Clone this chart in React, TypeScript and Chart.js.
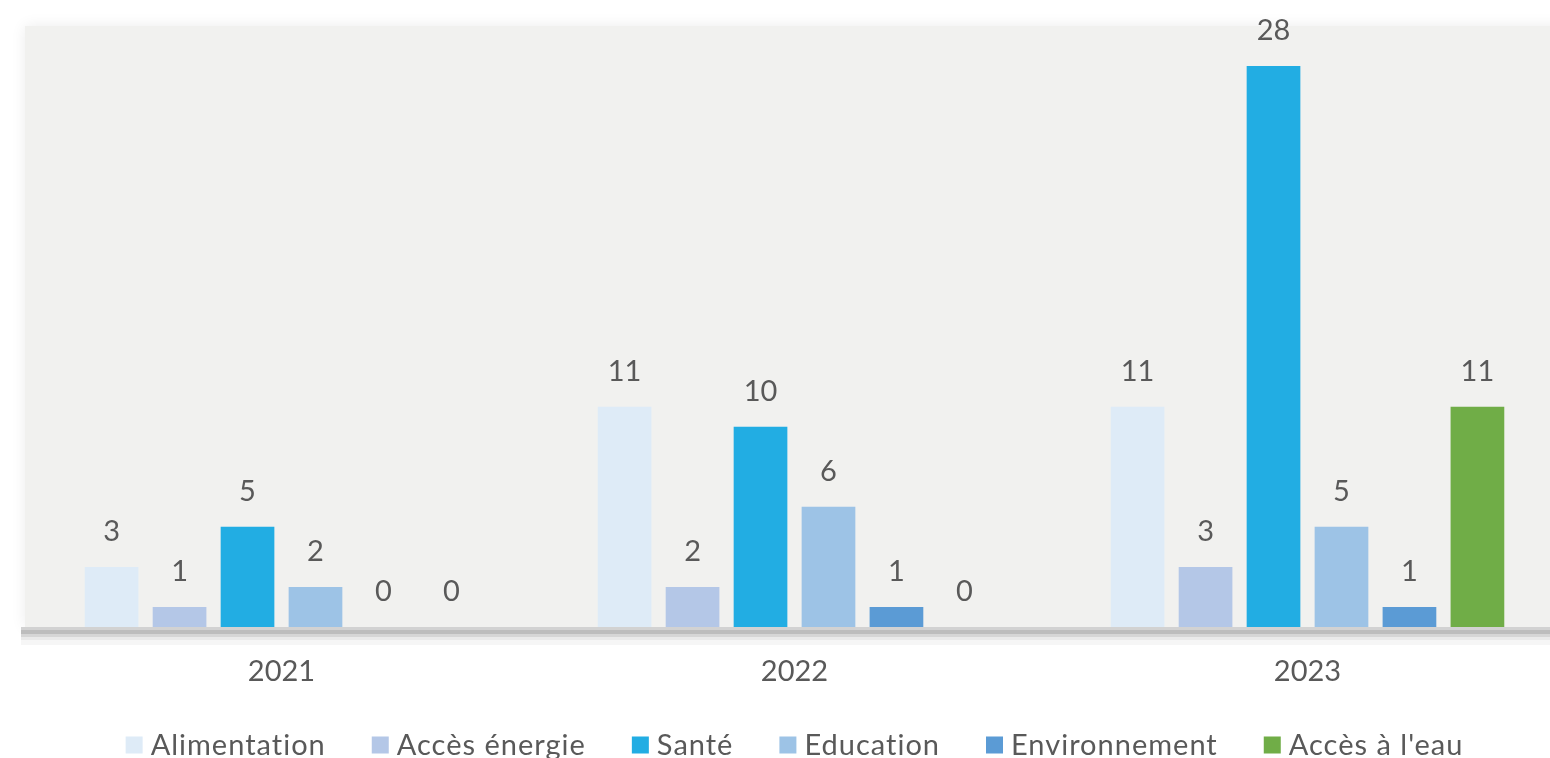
import React, { useEffect, useRef } from 'react';
import { Chart, registerables } from 'chart.js';

Chart.register(...registerables);

const categories = ['2021', '2022', '2023'];
const seriesNames = ['Alimentation', 'Accès énergie', 'Santé', 'Education', 'Environnement', "Accès à l'eau"];
const alimentation = [3, 11, 11];
const accesEnergie = [1, 2, 3];
const sante = [5, 10, 28];
const education = [2, 6, 5];
const environnement = [0, 1, 1];
const accesEau = [0, 0, 11];
const seriesColors = ['#deebf7', '#b4c7e7', '#22ade3', '#9dc3e6', '#5b9bd5', '#70ad47'];
const yMax = 30;

const FONT_FAMILY = 'Lato, "Open Sans", sans-serif';
const TEXT_COLOR = '#595959';

export default function App() {
  const ref = useRef<HTMLCanvasElement>(null);

  useEffect(() => {
    const canvas = ref.current;
    if (!canvas) return;
    const values = [alimentation, accesEnergie, sante, education, environnement, accesEau];

    const decor = {
      id: 'decor',
      beforeDraw(chart: any) {
        const { ctx, chartArea: a, width, height } = chart;
        ctx.save();
        ctx.fillStyle = '#ffffff';
        ctx.fillRect(0, 0, width, height);
        ctx.shadowColor = 'rgba(0,0,0,0.08)';
        ctx.shadowBlur = 14;
        ctx.fillStyle = '#f1f1ef';
        ctx.fillRect(a.left, a.top, width - a.left + 40, a.bottom - a.top);
        ctx.restore();
      },
      afterDatasetsDraw(chart: any) {
        const { ctx, width } = chart;
        const y0 = chart.scales.y.getPixelForValue(0);
        const left = chart.chartArea.left - 4;
        ctx.save();
        const bands: [number, number, string][] = [
          [0, 3, '#d2d2d2'],
          [3, 4, '#bdbdbd'],
          [7, 3, '#d6d6d6'],
          [10, 3, '#eaeaea'],
          [13, 5, '#f6f6f6'],
        ];
        bands.forEach(([o, h, c]) => {
          ctx.fillStyle = c;
          ctx.fillRect(left, y0 + o, width - left, h);
        });

        ctx.font = `29px ${FONT_FAMILY}`;
        ctx.fillStyle = TEXT_COLOR;
        ctx.textAlign = 'center';
        ctx.textBaseline = 'middle';
        chart.data.datasets.forEach((ds: any, di: number) => {
          const meta = chart.getDatasetMeta(di);
          meta.data.forEach((el: any, i: number) => {
            ctx.fillText(String(ds.data[i]), el.x, el.y - 35);
          });
        });

        const xs = chart.scales.x;
        categories.forEach((c, i) => {
          ctx.fillText(c, xs.getPixelForValue(i), y0 + 45);
        });

        // legend
        (ctx as any).letterSpacing = '1px';
        const box = 17;
        const gapBoxText = 8;
        const gapItems = 46;
        const widths = seriesNames.map((n) => box + gapBoxText + ctx.measureText(n).width);
        const total = widths.reduce((s, w) => s + w, 0) + gapItems * (seriesNames.length - 1);
        const cx = (chart.chartArea.left + chart.chartArea.right) / 2;
        let x = cx - total / 2;
        const ly = y0 + 118;
        ctx.textAlign = 'left';
        seriesNames.forEach((n, i) => {
          ctx.fillStyle = seriesColors[i];
          ctx.fillRect(x, ly - box / 2, box, box);
          ctx.fillStyle = TEXT_COLOR;
          ctx.fillText(n, x + box + gapBoxText, ly + 1);
          x += widths[i] + gapItems;
        });
        ctx.restore();
      },
    };

    const chart = new Chart(canvas, {
      type: 'bar',
      data: {
        labels: categories,
        datasets: seriesNames.map((name, i) => ({
          label: name,
          data: values[i],
          backgroundColor: seriesColors[i],
          borderWidth: 0,
          categoryPercentage: 0.795,
          barPercentage: 0.79,
        })),
      },
      options: {
        animation: false,
        responsive: false,
        devicePixelRatio: 1,
        layout: { padding: { left: 25, right: 26, top: 26, bottom: 131 } },
        plugins: {
          legend: { display: false },
          tooltip: { enabled: false },
        },
        scales: {
          x: { display: false },
          y: { display: false, min: 0, max: yMax },
        },
      },
      plugins: [decor],
    });
    return () => chart.destroy();
  }, []);

  return (
    <div style={{ position: 'absolute', left: 0, top: 0, width: 1550, height: 758, overflow: 'hidden', background: '#fff' }}>
      <canvas ref={ref} width={1590} height={758} style={{ display: 'block', width: 1590, height: 758 }} />
    </div>
  );
}
